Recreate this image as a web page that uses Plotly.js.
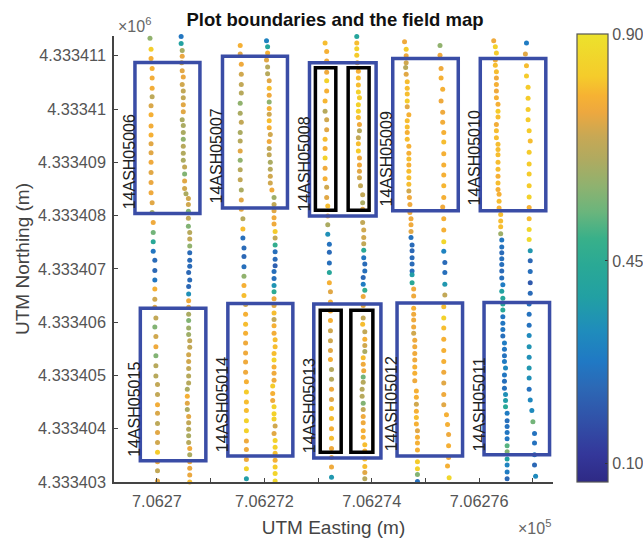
<!DOCTYPE html>
<html>
<head>
<meta charset="utf-8">
<script src="https://cdn.plot.ly/plotly-3.0.1.min.js"></script>
<style>html,body{margin:0;padding:0;background:#fff}#chart{width:643px;height:538px}</style>
</head>
<body>
<div id="chart"></div>
<script>
const EAST_BASE = 706270;
const NORTH_BASE = 4333000;

// each dot: [metres east of EAST_BASE, northing minus NORTH_BASE, field value]
const track01 = [[-.13,411.33,.62],[-.11,411.12,.83],[-.11,410.95,.78],[-.09,410.76,.78],[-.09,410.58,.77],[-.09,410.39,.77],[-.09,410.23,.69],[-.11,410.06,.73],[-.11,409.89,.78],[-.11,409.68,.77],[-.11,409.51,.78],[-.11,409.35,.74],[-.11,409.18,.74],[-.11,409.00,.76],[-.11,408.81,.74],[-.11,408.62,.75],[-.11,408.43,.76],[-.09,408.24,.74],[-.09,408.06,.65],[-.07,407.87,.76],[-.07,407.68,.58],[-.07,407.51,.46],[-.07,407.33,.28],[-.04,407.16,.25],[-.04,406.97,.24],[-.04,406.79,.28],[-.04,406.62,.78],[-.04,406.43,.72],[-.04,406.28,.74],[-.02,406.08,.70],[-.04,405.91,.60],[-.02,405.73,.72],[-.02,405.54,.76],[-.02,405.37,.60],[-.02,405.18,.68],[-.02,404.99,.68],[.01,404.83,.70],[.01,404.64,.70],[.01,404.45,.77],[.01,404.29,.73],[.01,404.10,.69],[.01,403.93,.74],[.01,403.74,.72],[.01,403.56,.82],[.01,403.38,.76],[.01,403.21,.70],[.01,403.02,.74]];
const track02 = [[.45,411.36,.28],[.45,411.23,.42],[.47,411.10,.65],[.47,410.99,.75],[.46,410.87,.72],[.47,410.72,.74],[.49,410.60,.75],[.47,410.46,.72],[.49,410.34,.70],[.49,410.21,.70],[.49,410.08,.74],[.49,409.95,.74],[.47,409.80,.66],[.49,409.69,.66],[.49,409.56,.66],[.49,409.43,.62],[.49,409.30,.68],[.49,409.17,.67],[.49,409.04,.66],[.515,408.91,.70],[.515,408.78,.60],[.515,408.65,.74],[.515,408.51,.72],[.54,408.41,.66],[.585,408.32,.72],[.585,408.21,.72],[.585,408.08,.60],[.585,407.95,.70],[.585,407.80,.60],[.61,407.68,.68],[.61,407.56,.70],[.61,407.43,.62],[.61,407.30,.25],[.61,407.16,.25],[.61,407.05,.25],[.59,406.93,.24],[.61,406.79,.25],[.59,406.67,.24],[.59,406.53,.36],[.59,406.40,.76],[.59,406.28,.74],[.59,406.15,.66],[.59,406.03,.60],[.59,405.89,.64],[.59,405.77,.64],[.61,405.65,.70],[.61,405.53,.70],[.59,405.39,.72],[.59,405.26,.72],[.59,405.13,.70],[.59,404.99,.68],[.59,404.86,.68],[.565,404.74,.66],[.565,404.61,.78],[.565,404.48,.74],[.565,404.36,.66],[.59,404.23,.74],[.59,404.11,.70],[.59,403.99,.68],[.59,403.87,.66],[.59,403.74,.68],[.61,403.63,.76],[.61,403.51,.66],[.61,403.38,.76],[.61,403.26,.75],[.61,403.13,.75],[.61,403.00,.80]];
const track03 = [[1.55,411.19,.78],[1.55,411.03,.74],[1.57,410.84,.76],[1.57,410.65,.72],[1.57,410.46,.70],[1.57,410.30,.68],[1.55,410.11,.62],[1.55,409.92,.66],[1.57,409.75,.70],[1.55,409.56,.66],[1.55,409.40,.68],[1.55,409.21,.74],[1.55,409.04,.62],[1.55,408.86,.68],[1.55,408.67,.70],[1.57,408.48,.66],[1.57,408.29,.74],[1.57,408.12,.74],[1.60,407.94,.68],[1.60,407.75,.80],[1.60,407.58,.26],[1.62,407.39,.25],[1.62,407.23,.24],[1.62,407.04,.26],[1.62,406.86,.62],[1.62,406.69,.78],[1.62,406.50,.80],[1.65,406.33,.72],[1.65,406.15,.78],[1.65,405.96,.80],[1.65,405.79,.78],[1.65,405.61,.76],[1.65,405.42,.76],[1.65,405.25,.76],[1.65,405.06,.76],[1.665,404.88,.78],[1.665,404.69,.82],[1.665,404.50,.80],[1.665,404.34,.80],[1.665,404.15,.84],[1.665,403.96,.84],[1.665,403.77,.76],[1.665,403.61,.76],[1.665,403.42,.76],[1.665,403.25,.84],[1.665,403.06,.40]];
const track04 = [[2.04,411.28,.32],[2.06,411.17,.44],[2.06,411.05,.78],[2.04,410.92,.74],[2.06,410.79,.68],[2.06,410.66,.68],[2.09,410.53,.74],[2.09,410.39,.80],[2.09,410.26,.76],[2.09,410.13,.62],[2.09,410.01,.78],[2.09,409.90,.72],[2.09,409.78,.80],[2.09,409.65,.78],[2.11,409.52,.72],[2.09,409.39,.76],[2.09,409.26,.70],[2.09,409.14,.70],[2.11,409.00,.66],[2.11,408.87,.68],[2.11,408.74,.72],[2.11,408.61,.72],[2.14,408.48,.76],[2.18,408.34,.64],[2.18,408.21,.70],[2.18,408.09,.74],[2.18,407.96,.76],[2.18,407.84,.76],[2.20,407.70,.82],[2.20,407.58,.70],[2.20,407.45,.50],[2.20,407.32,.26],[2.20,407.18,.25],[2.20,407.06,.22],[2.18,406.95,.26],[2.18,406.82,.26],[2.18,406.69,.37],[2.18,406.57,.48],[2.18,406.44,.76],[2.18,406.31,.74],[2.18,406.17,.80],[2.18,406.05,.70],[2.18,405.93,.78],[2.18,405.79,.77],[2.20,405.67,.80],[2.20,405.54,.80],[2.18,405.41,.80],[2.18,405.29,.84],[2.18,405.16,.78],[2.18,405.04,.76],[2.18,404.91,.76],[2.155,404.80,.82],[2.155,404.66,.78],[2.155,404.53,.76],[2.18,404.41,.84],[2.18,404.28,.84],[2.18,404.18,.84],[2.20,404.05,.72],[2.18,403.91,.74],[2.20,403.78,.84],[2.20,403.65,.84],[2.20,403.54,.80],[2.20,403.41,.78],[2.20,403.28,.82],[2.20,403.16,.85],[2.20,403.02,.86]];
const track05 = [[3.13,411.24,.80],[3.16,411.08,.78],[3.16,410.90,.76],[3.16,410.69,.76],[3.16,410.53,.84],[3.16,410.34,.78],[3.13,410.15,.79],[3.13,409.96,.68],[3.16,409.80,.72],[3.16,409.61,.74],[3.13,409.43,.80],[3.13,409.26,.78],[3.13,409.08,.84],[3.13,408.89,.76],[3.13,408.69,.78],[3.16,408.53,.72],[3.16,408.34,.74],[3.18,408.18,.80],[3.18,407.99,.76],[3.18,407.83,.66],[3.18,407.65,.36],[3.21,407.46,.27],[3.21,407.31,.25],[3.21,407.11,.26],[3.21,406.93,.45],[3.21,406.74,.78],[3.23,406.57,.74],[3.23,406.38,.78],[3.23,406.21,.76],[3.23,406.03,.78],[3.23,405.84,.72],[3.23,405.65,.72],[3.23,405.47,.74],[3.23,405.30,.78],[3.25,405.11,.68],[3.25,404.93,.68],[3.25,404.74,.76],[3.25,404.55,.74],[3.25,404.38,.80],[3.25,404.19,.80],[3.25,404.00,.78],[3.25,403.82,.80],[3.25,403.63,.76],[3.25,403.46,.76],[3.25,403.28,.76],[3.25,403.09,.38]];
const track06 = [[3.72,411.36,.44],[3.72,411.24,.80],[3.72,411.13,.84],[3.72,411.01,.82],[3.73,410.87,.74],[3.75,410.71,.78],[3.75,410.58,.80],[3.75,410.45,.80],[3.75,410.32,.84],[3.77,410.21,.82],[3.75,410.08,.84],[3.75,409.96,.84],[3.75,409.84,.80],[3.77,409.71,.76],[3.77,409.59,.68],[3.75,409.46,.70],[3.75,409.35,.80],[3.75,409.21,.82],[3.77,409.08,.76],[3.77,408.95,.76],[3.77,408.83,.74],[3.77,408.71,.72],[3.79,408.56,.70],[3.83,408.39,.70],[3.83,408.24,.66],[3.83,408.12,.74],[3.83,407.87,.70],[3.85,407.73,.72],[3.85,407.59,.72],[3.85,407.47,.70],[3.85,407.35,.46],[3.85,407.21,.28],[3.87,407.09,.25],[3.87,406.96,.26],[3.84,406.84,.24],[3.84,406.71,.30],[3.87,406.60,.50],[3.84,406.48,.76],[3.84,406.31,.74],[3.84,406.08,.70],[3.83,405.96,.80],[3.87,405.82,.70],[3.87,405.68,.78],[3.87,405.56,.72],[3.87,405.45,.66],[3.84,405.33,.80],[3.84,405.21,.76],[3.85,405.09,.76],[3.84,404.97,.58],[3.84,404.87,.68],[3.82,404.74,.68],[3.82,404.61,.68],[3.84,404.48,.60],[3.84,404.36,.70],[3.84,404.23,.76],[3.84,404.11,.76],[3.84,403.96,.78],[3.84,403.84,.78],[3.87,403.70,.80],[3.87,403.58,.78],[3.87,403.43,.80],[3.87,403.29,.80],[3.87,403.18,.74],[3.87,403.06,.68]];
const track07 = [[4.61,411.26,.76],[4.64,411.12,.82],[4.64,411.00,.76],[4.64,410.87,.72],[4.63,410.78,.68],[4.64,410.65,.74],[4.66,410.51,.80],[4.66,410.39,.80],[4.66,410.28,.80],[4.66,410.15,.82],[4.66,410.04,.74],[4.69,409.89,.78],[4.66,409.78,.80],[4.66,409.66,.80],[4.66,409.56,.78],[4.66,409.43,.80],[4.69,409.30,.78],[4.69,409.17,.78],[4.69,409.06,.80],[4.69,408.95,.78],[4.69,408.83,.80],[4.69,408.71,.80],[4.69,408.59,.80],[4.69,408.46,.72],[4.70,408.34,.76],[4.71,408.21,.76],[4.71,408.06,.76],[4.73,407.94,.76],[4.73,407.83,.76],[4.73,407.70,.74],[4.73,407.59,.27],[4.75,407.45,.25],[4.75,407.34,.24],[4.75,407.21,.25],[4.75,407.09,.25],[4.75,406.96,.26],[4.75,406.89,.40],[4.75,406.74,.46],[4.78,406.62,.76],[4.78,406.49,.76],[4.78,406.26,.78],[4.78,406.15,.76],[4.78,406.04,.76],[4.78,405.91,.76],[4.78,405.79,.72],[4.80,405.66,.76],[4.80,405.54,.76],[4.80,405.41,.76],[4.80,405.29,.76],[4.80,405.16,.78],[4.80,405.04,.78],[4.80,404.90,.76],[4.83,404.71,.78],[4.83,404.59,.78],[4.83,404.46,.72],[4.83,404.33,.78],[4.83,404.21,.80],[4.83,404.09,.78],[4.85,403.96,.74],[4.85,403.84,.78],[4.85,403.73,.78],[4.85,403.60,.78],[4.85,403.38,.82],[4.85,403.25,.84],[4.85,403.14,.60],[4.85,403.01,.26]];
const track08 = [[5.27,411.19,.62],[5.27,411.01,.76],[5.29,410.76,.76],[5.29,410.58,.78],[5.32,410.37,.78],[5.29,410.15,.76],[5.32,409.94,.76],[5.32,409.75,.77],[5.34,409.56,.78],[5.34,409.38,.80],[5.34,409.16,.78],[5.34,408.95,.78],[5.34,408.76,.78],[5.34,408.56,.79],[5.34,408.34,.78],[5.32,408.16,.76],[5.34,407.94,.78],[5.34,407.73,.78],[5.34,407.51,.86],[5.34,407.33,.32],[5.36,407.12,.25],[5.36,406.93,.26],[5.36,406.71,.38],[5.36,406.51,.70],[5.34,406.29,.80],[5.34,406.08,.84],[5.34,405.89,.80],[5.34,405.68,.78],[5.34,405.47,.78],[5.34,405.26,.78],[5.34,405.06,.76],[5.34,404.86,.74],[5.34,404.64,.76],[5.34,404.45,.74],[5.39,404.26,.78],[5.41,404.08,.78],[5.43,403.89,.76],[5.43,403.68,.78],[5.43,403.46,.76],[5.41,403.30,.78],[5.44,403.08,.86]];
const track09 = [[6.27,411.28,.76],[6.30,411.17,.84],[6.32,411.05,.82],[6.30,410.92,.78],[6.30,410.82,.80],[6.32,410.70,.80],[6.32,410.58,.76],[6.32,410.46,.78],[6.32,410.34,.76],[6.32,410.21,.78],[6.35,410.09,.78],[6.35,409.96,.82],[6.35,409.85,.80],[6.32,409.71,.77],[6.32,409.59,.80],[6.32,409.46,.80],[6.35,409.34,.80],[6.35,409.24,.80],[6.35,409.14,.80],[6.35,409.00,.80],[6.35,408.87,.80],[6.35,408.74,.78],[6.35,408.61,.80],[6.35,408.49,.78],[6.37,408.40,.78],[6.37,408.27,.80],[6.37,408.14,.78],[6.40,408.02,.80],[6.40,407.90,.80],[6.40,407.79,.80],[6.40,407.66,.64],[6.42,407.54,.28],[6.42,407.41,.27],[6.42,407.30,.25],[6.42,407.19,.26],[6.42,407.08,.26],[6.42,406.96,.25],[6.42,406.83,.26],[6.44,406.70,.30],[6.42,406.58,.42],[6.44,406.45,.45],[6.44,406.34,.46],[6.44,406.23,.46],[6.44,406.10,.28],[6.44,405.98,.28],[6.44,405.86,.28],[6.44,405.74,.26],[6.47,405.61,.30],[6.47,405.49,.28],[6.47,405.37,.27],[6.47,405.26,.30],[6.49,405.14,.33],[6.47,405.01,.28],[6.47,404.89,.26],[6.47,404.76,.26],[6.49,404.64,.36],[6.49,404.53,.40],[6.49,404.41,.46],[6.52,404.29,.30],[6.52,404.15,.26],[6.52,404.04,.27],[6.52,403.93,.28],[6.52,403.81,.28],[6.52,403.68,.55],[6.52,403.57,.60],[6.52,403.43,.42],[6.52,403.32,.32],[6.52,403.19,.30],[6.52,403.06,.24]];
const track10 = [[6.88,411.24,.30],[6.86,411.03,.74],[6.88,410.81,.80],[6.88,410.62,.82],[6.91,410.41,.82],[6.91,410.20,.82],[6.91,409.99,.82],[6.91,409.80,.82],[6.93,409.59,.82],[6.95,409.40,.80],[6.93,409.19,.82],[6.93,408.97,.82],[6.93,408.78,.82],[6.93,408.56,.82],[6.93,408.35,.84],[6.93,408.15,.78],[6.93,407.94,.80],[6.93,407.74,.86],[6.93,407.55,.87],[6.95,407.34,.38],[6.95,407.15,.24],[6.95,406.95,.26],[6.95,406.74,.20],[6.95,406.54,.25],[6.93,406.34,.26],[6.93,406.15,.27],[6.93,405.94,.27],[6.93,405.75,.34],[6.93,405.54,.37],[6.93,405.34,.36],[6.93,405.14,.38],[6.93,404.95,.36],[6.93,404.74,.27],[6.95,404.54,.33],[6.98,404.34,.34],[7.00,404.13,.58],[7.03,403.91,.27],[7.03,403.73,.27],[7.03,403.51,.28],[7.03,403.32,.24],[7.05,403.11,.34]];
const tracks = [track01,track02,track03,track04,track05,track06,track07,track08,track09,track10];

const plotNames = ["14ASH05006","14ASH05007","14ASH05008","14ASH05009","14ASH05010","14ASH05015","14ASH05014","14ASH05013","14ASH05012","14ASH05011"];
const labelEast = [-.52,1.10,2.74,4.28,5.92,-.43,1.21,2.83,4.36,6.00];
const labelNorth = [409.00,409.11,408.96,409.07,409.09,404.37,404.46,404.44,404.46,404.46];
const plotBoxes = [[-.41,.80,408.04,410.875],[1.22,2.43,408.14,410.99],[2.84,4.08,407.99,410.87],[4.39,5.61,408.09,410.95],[6.02,7.24,408.09,410.95],[-.31,.91,403.40,406.26],[1.32,2.53,403.49,406.35],[2.92,4.17,403.45,406.34],[4.47,5.69,403.49,406.36],[6.09,7.31,403.51,406.37]];
const subBoxes = [[2.95,3.33,408.10,410.775],[3.56,3.95,408.10,410.775],[3.04,3.43,403.56,406.225],[3.61,4.02,403.56,406.225]];

const yTicks = [403,404,405,406,407,408,409,410,411];
const yTickText = ["4.333403","4.333404","4.333405","4.333406","4.333407","4.333408","4.333409","4.33341","4.333411"];
const xTicks = [0,2,4,6];
const xTickText = ["7.0627","7.06272","7.06274","7.06276"];
const xMinorTicks = [1,3,5,7];
const cbTicks = [0.10,0.477,0.90];
const cbTickText = ["0.10","0.45","0.90"];
const cMin = 0.065, cMax = 0.90;
const scaleStops = [[.065,"#2e2a85"],[.116,"#34379a"],[.18,"#3151a8"],[.24,"#2c68b5"],[.29,"#2079c4"],[.346,"#1f8cbc"],[.41,"#22a0a3"],[.47,"#2aa995"],[.518,"#38b08a"],[.568,"#6ab57c"],[.617,"#8fb26f"],[.667,"#b0aa60"],[.71,"#c8a854"],[.754,"#eda83f"],[.785,"#f6b233"],[.82,"#f5cb2b"],[.90,"#ece22c"]];

const colorscale = scaleStops.map(s => [(s[0]-cMin)/(cMax-cMin), s[1]]);
const E = v => EAST_BASE + v, N = v => NORTH_BASE + v;

const data = tracks.map(t => ({
  type: "scatter", mode: "markers", cliponaxis: false, hoverinfo: "skip", showlegend: false,
  x: t.map(p => E(p[0])), y: t.map(p => N(p[1])),
  marker: {size: 5, color: t.map(p => p[2]), coloraxis: "coloraxis", line: {width: 0}}
}));

const rect = (b, color, width) => ({type:"rect", xref:"x", yref:"y", x0:E(b[0]), x1:E(b[1]), y0:N(b[2]), y1:N(b[3]), line:{color, width}, fillcolor:"rgba(0,0,0,0)"});
const shapes = plotBoxes.map(b => rect(b,"#3a4da6",3.5)).concat(subBoxes.map(b => rect(b,"#000000",3.5)));

const annotations = plotNames.map((n,i) => ({
  xref:"x", yref:"y", x:E(labelEast[i]), y:N(labelNorth[i]), text:n, textangle:-90, showarrow:false,
  xanchor:"center", yanchor:"middle", font:{family:"Liberation Sans", size:16, color:"#222"}
}));
annotations.push({xref:"paper",yref:"paper",x:0.004,y:0.998,xanchor:"left",yanchor:"bottom",showarrow:false,text:"×10<sup>6</sup>",font:{family:"Liberation Sans",size:16,color:"#666"}});
annotations.push({xref:"paper",yref:"paper",x:1.0,y:-0.074,xanchor:"right",yanchor:"top",showarrow:false,text:"×10<sup>5</sup>",font:{family:"Liberation Sans",size:16,color:"#666"}});

const axisCommon = {showgrid:false, zeroline:false, showline:true, linecolor:"#444", linewidth:1.5, ticks:"inside", ticklen:4, tickwidth:1, tickcolor:"#444", tickmode:"array", tickfont:{family:"Liberation Sans", size:16.3, color:"#555"}};

const layout = {
  width:643, height:538, margin:{l:114,r:90,t:36,b:56,pad:0}, paper_bgcolor:"#fff", plot_bgcolor:"#fff",
  title:{text:"<b>Plot boundaries and the field map</b>", font:{family:"Liberation Sans", size:18.5, color:"#111"}, x:0.521, xanchor:"center", y:0.964, yanchor:"middle"},
  xaxis:Object.assign({}, axisCommon, {range:[E(-.80),E(7.374)], tickvals:xTicks.map(E), ticktext:xTickText, ticklabelstandoff:4,
    minor:{tickmode:"array", tickvals:xMinorTicks.map(E), ticks:"inside", ticklen:4, tickwidth:1, tickcolor:"#444", showgrid:false},
    title:{text:"UTM Easting (m)", font:{family:"Liberation Sans", size:19, color:"#444"}, standoff:11}}),
  yaxis:Object.assign({}, axisCommon, {range:[N(403),N(411.37)], tickvals:yTicks.map(N), ticktext:yTickText, ticklabelstandoff:3,
    title:{text:"UTM Northing (m)", font:{family:"Liberation Sans", size:19, color:"#444"}, standoff:3}}),
  coloraxis:{cmin:cMin, cmax:cMax, colorscale, colorbar:{
    xref:"container", yref:"paper", x:577/643, xanchor:"left", xpad:0, y:0, yanchor:"bottom", ypad:0, lenmode:"pixels", len:448, thicknessmode:"pixels", thickness:31,
    tickmode:"array", tickvals:cbTicks, ticktext:cbTickText, ticks:"inside", ticklen:3, tickcolor:"#333", tickfont:{family:"Liberation Sans", size:16, color:"#555"},
    outlinecolor:"#555", outlinewidth:1.2, borderwidth:0
  }},
  shapes, annotations
};

Plotly.newPlot("chart", data, layout, {displayModeBar:false, responsive:false});
</script>
</body>
</html>
